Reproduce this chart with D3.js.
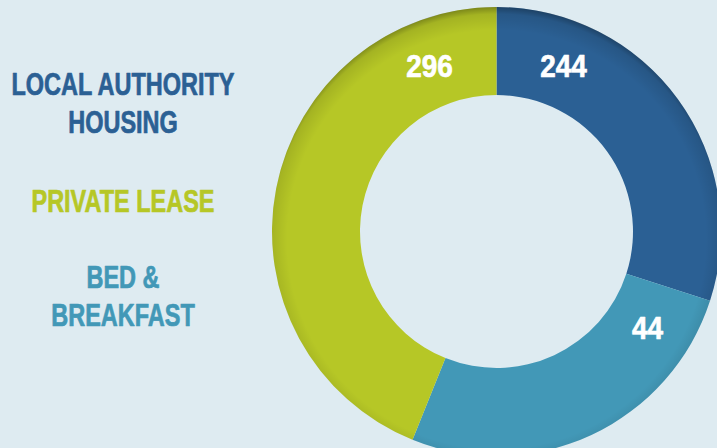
<!DOCTYPE html>
<html>
<head>
<meta charset="utf-8">
<script src="https://cdn.jsdelivr.net/npm/d3@7"></script>
<style>
  html, body { margin: 0; padding: 0; background: #deebf1; }
  svg { display: block; }
  .lbl { font-family: "Liberation Sans", Arial, sans-serif; font-weight: bold; stroke-width: 0.7px; stroke-linejoin: round; }
</style>
</head>
<body>
<div id="chart"></div>
<script>
// ---- data ----
var categories = ["LOCAL AUTHORITY HOUSING", "BED & BREAKFAST", "PRIVATE LEASE"];
var counts = [244, 44, 296];
// angular share of each slice as drawn in the graphic (percent of the ring)
var arcShare = [30, 26.1, 43.9];
var colors = ["#2b6094", "#4298b7", "#b6c726"];

// legend text (left side), line by line
var legendLines = [
    {cat: 0, lines: ["LOCAL AUTHORITY", "HOUSING"]},
    {cat: 2, lines: ["PRIVATE LEASE"]},
    {cat: 1, lines: ["BED &", "BREAKFAST"]}
];

var width = 717, height = 448;
var cx = 496.5, cy = 231.5, rOuter = 224.5, rInner = 136.5;

var svg = d3.select("#chart").append("svg")
    .attr("width", width)
    .attr("height", height);

svg.append("rect").attr("width", width).attr("height", height).attr("fill", "#deebf1");

/*========== Donut ===========*/
var pie = d3.pie().sort(null).value(function (d) { return d; });
var arcs = pie(arcShare);

var arc = d3.arc().innerRadius(rInner).outerRadius(rOuter);

var g = svg.append("g").attr("transform", "translate(" + cx + "," + cy + ")");

g.selectAll(".slice")
    .data(arcs)
    .enter()
    .append("path")
    .attr("class", "slice")
    .attr("d", arc)
    .attr("fill", function (d, i) { return colors[i]; });

// soft shading along the outer rim (darker at the top)
var defs = svg.append("defs");
var grad = defs.append("radialGradient")
    .attr("id", "rim")
    .attr("gradientUnits", "userSpaceOnUse")
    .attr("cx", 0).attr("cy", 8).attr("r", rOuter + 8);
grad.append("stop").attr("offset", 0.9).attr("stop-color", "#000").attr("stop-opacity", 0);
grad.append("stop").attr("offset", 0.97).attr("stop-color", "#000").attr("stop-opacity", 0.1);
grad.append("stop").attr("offset", 1).attr("stop-color", "#000").attr("stop-opacity", 0.32);

g.append("path")
    .attr("d", d3.arc().innerRadius(rInner).outerRadius(rOuter).startAngle(0).endAngle(2 * Math.PI)())
    .attr("fill", "url(#rim)");

// value labels
var labelR = 179;
var deg = Math.PI / 180;
function labelAngle(d, i) {
    if (i === 0) return d.startAngle + 22 * deg;
    if (i === 1) return d.startAngle + 14.5 * deg;
    return d.endAngle - 22 * deg;
}

g.selectAll(".val")
    .data(arcs)
    .enter()
    .append("g")
    .attr("transform", function (d, i) {
        var a = labelAngle(d, i);
        return "translate(" + (labelR * Math.sin(a)) + "," + (-labelR * Math.cos(a)) + ") scale(0.9,1)";
    })
    .append("text")
    .attr("class", "lbl val")
    .text(function (d, i) { return counts[i]; })
    .attr("dy", "0.36em")
    .style("text-anchor", "middle")
    .style("font-size", "31px")
    .attr("fill", "#fff")
    .attr("stroke", "#fff");

/*========== Legend labels ===========*/
var legendY = [95, 212, 288];
var lineH = 38;

var lg = svg.append("g");
legendLines.forEach(function (item, k) {
    lg.selectAll(null)
        .data(item.lines)
        .enter()
        .append("g")
        .attr("transform", function (d, j) {
            return "translate(123," + (legendY[k] + j * lineH) + ") scale(0.77,1)";
        })
        .append("text")
        .attr("class", "lbl")
        .text(function (d) { return d; })
        .style("text-anchor", "middle")
        .style("font-size", "30.5px")
        .attr("fill", colors[item.cat])
        .attr("stroke", colors[item.cat]);
});
</script>
</body>
</html>
